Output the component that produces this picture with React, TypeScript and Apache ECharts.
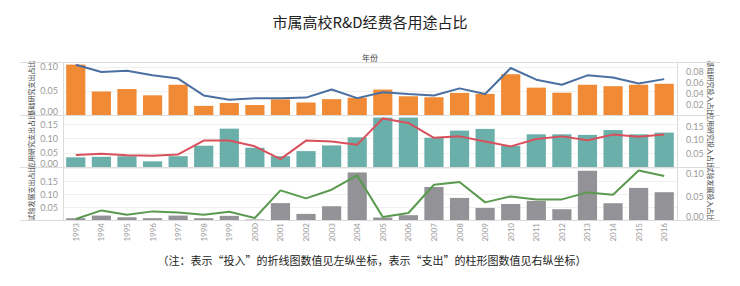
import React, { useEffect, useRef } from "react";
import * as echarts from "echarts";

const years = [
  "1993", "1994", "1995", "1996", "1997", "1998", "1999", "2000",
  "2001", "2002", "2003", "2004", "2005", "2006", "2007", "2008",
  "2009", "2010", "2011", "2012", "2013", "2014", "2015", "2016",
];

// 基础研究
const basicSpend = [0.105, 0.049, 0.054, 0.041, 0.063, 0.019, 0.025, 0.021, 0.0325, 0.026, 0.033, 0.036, 0.053, 0.039, 0.037, 0.046, 0.044, 0.085, 0.057, 0.0465, 0.063, 0.06, 0.063, 0.065];
const basicInvest = [0.0925, 0.079, 0.0815, 0.073, 0.067, 0.036, 0.028, 0.0306, 0.031, 0.032, 0.047, 0.031, 0.042, 0.0386, 0.036, 0.049, 0.0386, 0.0865, 0.065, 0.0557, 0.073, 0.069, 0.058, 0.066];

// 应用研究
const appliedSpend = [0.034, 0.036, 0.038, 0.02, 0.038, 0.075, 0.135, 0.068, 0.038, 0.056, 0.076, 0.1045, 0.174, 0.174, 0.103, 0.128, 0.134, 0.075, 0.115, 0.115, 0.113, 0.13, 0.115, 0.121];
const appliedInvest = [0.044, 0.049, 0.043, 0.0415, 0.046, 0.097, 0.097, 0.076, 0.029, 0.097, 0.094, 0.082, 0.178, 0.162, 0.107, 0.1125, 0.094, 0.0757, 0.103, 0.1125, 0.098, 0.119, 0.111, 0.119];

// 试验发展
const devSpend = [0.007, 0.017, 0.011, 0.007, 0.017, 0.007, 0.016, 0.002, 0.065, 0.0235, 0.053, 0.183, 0.0096, 0.0185, 0.127, 0.085, 0.0465, 0.062, 0.0735, 0.0415, 0.19, 0.0646, 0.1235, 0.107];
const devInvest = [0.002, 0.0206, 0.0114, 0.0185, 0.0163, 0.0114, 0.0178, 0.0043, 0.0635, 0.0464, 0.065, 0.0957, 0.0064, 0.015, 0.0757, 0.0815, 0.0378, 0.0506, 0.0442, 0.0442, 0.0592, 0.0543, 0.1064, 0.0944];

const leftNames = ["基础研究支出占比", "应用研究支出占比", "试验发展支出占比"];
const rightNames = ["基础研究投入占比", "应用研究投入占比", "试验发展投入占比"];

const leftTicks = [["0.00", "0.05", "0.10"], ["0.00", "0.05", "0.10", "0.15"], ["0.05", "0.10", "0.15"]];
const rightTicks = [["0.02", "0.04", "0.06", "0.08"], ["0.05", "0.10", "0.15"], ["0.00", "0.05", "0.10"]];

const leftMax = [0.1104, 0.183, 0.204];
const rightMax = [0.0975, 0.191, 0.1137];
const leftInterval = [0.05, 0.05, 0.05];
const rightInterval = [0.02, 0.05, 0.05];

const title = "市属高校R&D经费各用途占比";
const xTitle = "年份";
const note = "（注：表示“投入”的折线图数值见左纵坐标，表示“支出”的柱形图数值见右纵坐标）";

const barColors = ["#F08A35", "#6AAFAA", "#939297"];
const lineColors = ["#4A6FA0", "#D8505C", "#5A9A4E"];

const grids = [
  { top: 62, height: 53 },
  { top: 115, height: 52 },
  { top: 167, height: 53 },
];

export default function App() {
  const ref = useRef<HTMLDivElement>(null);

  useEffect(() => {
    document.body.style.margin = "0";
    if (!ref.current) return;
    const chart = echarts.init(ref.current, undefined, { renderer: "svg" });
    const font = "Lato, 'Noto Sans', sans-serif";
    const cjk = "'Noto Sans CJK SC', sans-serif";

    const mkFormatter = (ticks: string[]) => (v: number) => {
      const s = v.toFixed(2);
      if (!ticks.includes(s)) return "";
      if (Math.abs(v) < 1e-9) return `{lo|${s}}`;
      return s;
    };
    const rich = { lo: { padding: [0, 0, 8, 0], fontSize: 9, color: "#9a9a9a", fontFamily: font } };

    const yAxis: any[] = [];
    const series: any[] = [];
    const spends = [basicSpend, appliedSpend, devSpend];
    const invests = [basicInvest, appliedInvest, devInvest];

    for (let i = 0; i < 3; i++) {
      yAxis.push({
        type: "value",
        gridIndex: i,
        position: "left",
        min: 0,
        max: leftMax[i],
        interval: leftInterval[i],
        name: leftNames[i],
        nameLocation: "middle",
        nameRotate: 90,
        nameGap: 29,
        nameMoveOverlap: false,
        nameTextStyle: { fontSize: 7, color: "#444", fontFamily: cjk },
        axisLine: { show: false },
        axisTick: { show: false },
        splitLine: { show: true, lineStyle: { color: "#f0f0f0", width: 1 } },
        axisLabel: { formatter: mkFormatter(leftTicks[i]), fontSize: 9, color: "#9a9a9a", fontFamily: font, margin: 5, rich },
      });
      yAxis.push({
        type: "value",
        gridIndex: i,
        position: "right",
        min: 0,
        max: rightMax[i],
        interval: rightInterval[i],
        name: rightNames[i],
        nameLocation: "middle",
        nameRotate: -90,
        nameGap: 31,
        nameMoveOverlap: false,
        nameTextStyle: { fontSize: 7, color: "#444", fontFamily: cjk },
        axisLine: { show: false },
        axisTick: { show: false },
        splitLine: { show: false },
        axisLabel: { formatter: mkFormatter(rightTicks[i]), fontSize: 9, color: "#9a9a9a", fontFamily: font, margin: 9, rich },
      });
      series.push({
        type: "bar",
        xAxisIndex: i,
        yAxisIndex: 2 * i,
        data: spends[i],
        barWidth: "75%",
        itemStyle: { color: barColors[i] },
        z: 2,
      });
      series.push({
        type: "line",
        xAxisIndex: i,
        yAxisIndex: 2 * i + 1,
        data: invests[i],
        symbol: "none",
        lineStyle: { color: lineColors[i], width: 2 },
        z: 3,
      });
    }

    const hLines = [62, 115, 167, 220].map((y) => ({
      type: "line",
      shape: { x1: 20, y1: y + 0.5, x2: 720, y2: y + 0.5 },
      style: { stroke: "#dcdcdc", lineWidth: 1 },
      z: 10,
    }));
    const vLines = [63, 677].map((x) => ({
      type: "line",
      shape: { x1: x + 0.5, y1: 62, x2: x + 0.5, y2: 220 },
      style: { stroke: "#dcdcdc", lineWidth: 1 },
      z: 10,
    }));

    chart.setOption({
      animation: false,
      backgroundColor: "#ffffff",
      title: {
        text: title,
        left: "center",
        top: 9,
        textStyle: { fontSize: 15, fontWeight: "normal", color: "#222", fontFamily: cjk },
      },
      grid: grids.map((g) => ({ left: 63, right: 63, top: g.top, height: g.height })),
      xAxis: [0, 1, 2].map((i) => ({
        type: "category",
        gridIndex: i,
        data: years,
        axisLine: { show: false },
        axisTick: { show: false },
        splitLine: { show: false },
        axisLabel:
          i === 2
            ? { show: true, rotate: 90, fontSize: 8, color: "#9a9a9a", fontFamily: font, margin: 3, interval: 0 }
            : { show: false },
      })),
      yAxis,
      series,
      graphic: [
        ...hLines,
        ...vLines,
        {
          type: "text",
          x: 370,
          y: 57,
          style: { text: xTitle, fontSize: 8, fill: "#444", textAlign: "center", textVerticalAlign: "middle", fontFamily: cjk },
        },
        {
          type: "text",
          x: 372,
          y: 260,
          style: { text: note, fontSize: 11, fill: "#222", textAlign: "center", textVerticalAlign: "middle", fontFamily: cjk },
        },
      ],
    });
    return () => chart.dispose();
  }, []);

  return <div ref={ref} style={{ width: 740, height: 286 }} />;
}
